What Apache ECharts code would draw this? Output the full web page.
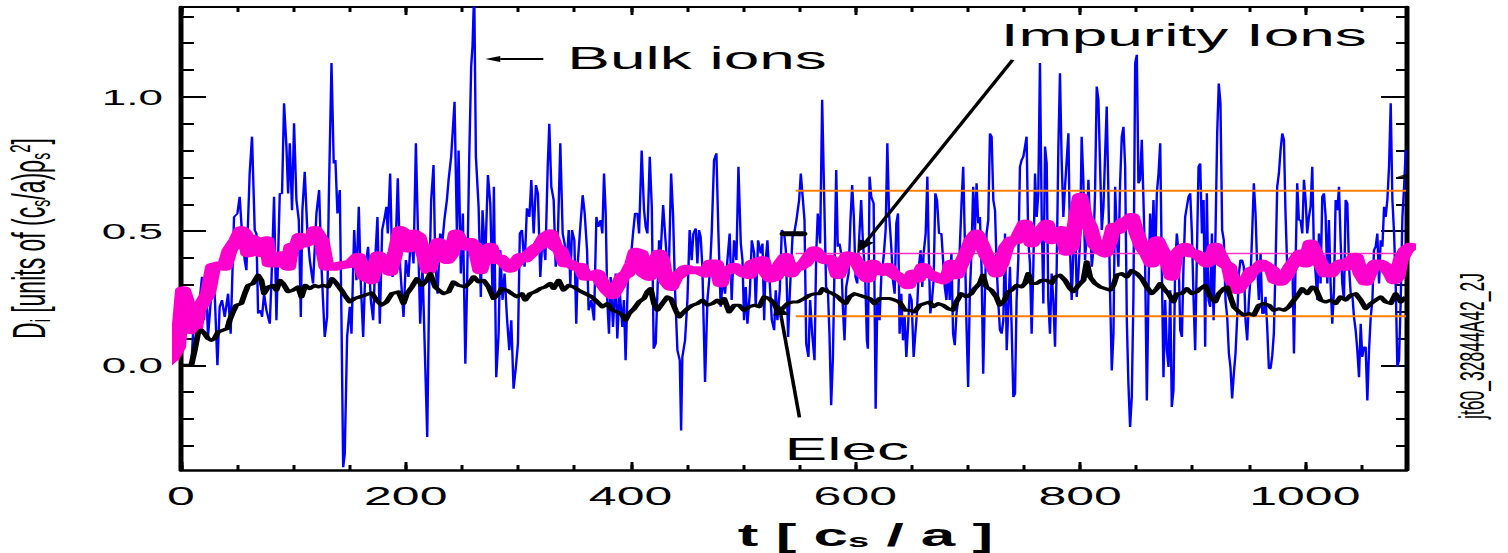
<!DOCTYPE html>
<html><head><meta charset="utf-8">
<script src="https://cdn.jsdelivr.net/npm/echarts@6/dist/echarts.min.js"></script>
<style>
html,body{margin:0;padding:0;background:#fff;overflow:hidden;}
#wrap{width:1508px;height:553px;overflow:hidden;position:relative;background:#fff;}
#chart{width:754px;height:553px;transform:scaleX(2);transform-origin:0 0;}
</style></head><body><div id="wrap"><div id="chart"></div></div>
<script>
// ---------- data (t in c_s/a, D in units of (c_s/a) rho_s^2) ----------
const xRange = [0, 1090];
const yRange = [-0.39, 1.335];
const xMajorTicks = [0, 200, 400, 600, 800, 1000];
const xMinorTicks = [0,50,100,150,200,250,300,350,400,450,500,550,600,650,700,750,800,850,900,950,1000,1050];
const yMajorTicks = [0, 0.5, 1.0];
const yMinorTicks = [-0.3,-0.2,-0.1,0,0.1,0.2,0.3,0.4,0.5,0.6,0.7,0.8,0.9,1.0,1.1,1.2,1.3];

const bulkIons = [
[0,0],[9.2,0],[10.7,0.118],[13.7,0.131],[16.6,0.243],[18.7,0.33],[20.5,0.168],[22.6,0.292],[24,0.106],[27,0.267],[29.4,0.33],[32.4,0],[34.4,0.218],[36.5,0.243],[38.9,0.18],[41.9,0.267],[44.2,0.118],[47.2,0.553],[50.2,0.566],[52.2,0.628],[54.3,0.491],[56.7,0.392],[58.2,0.354],[59.7,0.541],[61.1,0.715],[63.2,0.852],[65.6,0.504],[67.1,0.491],[68.6,0.193],[70.9,0.205],[72.1,0.18],[73.9,0.267],[76,0.205],[79,0.155],[80.4,0.305],[82.8,0.628],[84.9,0.168],[87.9,0.64],[89.9,0.64],[91.7,0.976],[93.8,0.815],[95.3,0.64],[96.8,0.827],[98.8,0.578],[100.6,0.902],[102.7,0.616],[104.8,0.541],[106.6,0.18],[108,0.578],[110.1,0.721],[112.5,0.491],[114.6,0.392],[117.5,0.305],[120.5,0.566],[122.9,0.653],[125,0.367],[127.9,0.106],[130,0.18],[131.5,0.616],[133.9,1.126],[135.9,0.752],[137.4,0.765],[139.2,0.566],[141.3,0.653],[142.8,0.168],[144.3,-0.38],[145.7,-0.33],[147.8,0.106],[150.2,0.218],[151.7,0.118],[154.1,0.504],[156.1,0.317],[158.2,0.591],[160,0.305],[162.1,0.106],[164.1,0.367],[166.5,0.442],[168.9,0.243],[171,0.168],[173.1,0.417],[174.8,0.553],[176.9,0.155],[179,0.504],[181.3,0.553],[182.8,0.591],
[184,0.491],[186.1,0.715],[188.2,0.329],[190.6,0.392],[192.9,0.697],[195,0.367],[198,0.18],[200.1,0.392],[202.4,0.329],[204.8,0.491],[206.9,0.379],[209,0.827],[210.8,0.504],[212.8,0.155],[214.9,0.367],[216.7,0.093],[219.1,-0.267],[220.8,0.28],[222.6,0.616],[224.7,0.746],[226.2,0.392],[228.3,0.267],[230.6,0.491],[232.7,0.466],[234.5,0.547],[236.6,0.616],[238.1,0.691],[240.4,0.778],[243.4,0.982],[245.5,0.491],[247,0.8],[249,0.342],[250.8,0.566],[253,0.006],[254.4,0.267],[256.5,0.778],[258.2,1.113],[259.4,1.19],[260.9,1.4],[262.4,0.778],[264.8,0.591],[266.8,0.255],[268.3,0.578],[270.7,0.392],[273.1,0.709],[275.2,0.603],[277.3,0.243],[278.4,0.665],[280.5,-0.044],[282.6,0.118],[284.1,0.429],[286.1,0.243],[287.9,0.342],[290,0.18],[292.1,0.056],[293.9,0.168],[295.9,-0.087],[298,-0.006],[299.8,0.081],[301.5,0.491],[303.4,0.504],[305.7,0.367],[307.8,0.585],[310,0.553],[311.7,0.69],[313.8,0.491],[315.8,0.672],[317.6,0.64],[319.7,0.329],[321.8,0.491],[324.2,0.392],[326.3,0.74],[327.7,0.9],[329.5,0.665],[331.6,0.616],[333.4,0.367],[335.4,0.491],[337.5,0.827],[339.6,0.491],[341.3,0.454],[343.4,0.392],[345,0.504],[346.4,0.3],[347.9,0.504],[350,0.466],[351.7,0.155],[353.2,0.392],[355.3,0.516],[357.4,0.634],[359.2,0.566],[361.3,0.429],[362.7,0.205],[365.1,0.243],
[367.5,0.167],[369.6,0.553],[371.3,0.516],[373.4,0.541],[374.9,0.491],[376.4,0.715],[377.9,0.566],[379.3,0.243],[380.8,0.118],[382.3,0.329],[384.4,0.143],[386.8,0.342],[388.2,0.1],[390.3,0.28],[392.7,0.143],[394.1,0.243],[395.6,0.019],[397.8,0.342],[400.1,0.392],[402.2,0.491],[404,0.566],[406.1,0.566],[407.6,0.491],[409.9,0.8],[412,0.578],[413.5,0.516],[415,0.491],[417.1,0.777],[418.9,0.591],[420.6,0.062],[422.4,0.081],[423.9,0.267],[425.4,0.466],[426.9,0.429],[429,0.597],[430.7,0.491],[432.8,0.367],[434.3,0.392],[436.1,0.715],[437.8,0.566],[439.6,0.28],[441.7,0.056],[443.8,0.019],[445,-0.243],[446.1,0.031],[448.5,0.093],[450.6,0.243],[452.6,0.504],[454.4,0.392],[455.9,0.491],[458,0.51],[459.5,0.379],[460.9,0.504],[462.4,0.479],[463.9,0.367],[466.3,-0.062],[468.4,0.243],[470.5,0.342],[472.2,0.491],[474.3,0.765],[476.4,0.79],[478.2,0.491],[480.2,0.218],[482.3,0.329],[484.1,0.267],[486.2,0.392],[488.2,0.491],[490,0.243],[492.1,0.466],[494.2,0.392],[496,0.74],[498.1,0.454],[499.6,0.392],[501,0.168],[502.5,0.292],[504,0.155],[506.1,0.267],[507.9,0.466],[510,0.417],[511.4,0.218],[513.5,0.466],[515.9,0.417],[517.4,0.454],[518.9,0.168],[520.3,0.392],[521.8,0.466],[523.9,0.305],[525.7,0.168],[527.8,0.131],[529.2,0.28],[530.7,0.168],[532.8,0.28],[534.6,0.504],[536.7,0.491],[538.2,0.429],[540.2,0.106],[541.7,0.267],[544.1,0.479],[545.6,0.491],[547.6,0.541],[550,0.616],[551.5,0.715],
[554.8,0.541],[556.3,0.081],[558.3,0.031],[559.8,0.243],[561.6,0.118],[563.7,0.019],[565.2,0.417],[566.6,0.566],[568.7,0.454],[570.5,0.989],[572.6,0.566],[574,0.292],[575.6,0.28],[577,0.118],[578.5,-0.149],[580,0.019],[581.5,0.367],[583,0.728],[584.4,0.442],[585.9,0.454],[587.4,0.417],[588.9,0.218],[590.4,0.093],[591.9,0.292],[594,0.342],[595.7,0.541],[597.2,0.672],[598.7,0.553],[600.2,0.329],[601.7,0.305],[603.2,0.454],[605.2,0.616],[606.7,0.466],[608.8,0.329],[610.3,0.093],[611.2,0.062],[612.7,0.703],[614.2,0.628],[616.3,0.603],[618.1,-0.162],[619.6,0.243],[621.6,0.168],[623.1,0.329],[625.2,0.404],[627,0.504],[628.5,0.827],[630,0.566],[632,0.442],[633.5,0.317],[635,0.267],[636.5,0.529],[638,0.566],[639.4,0.118],[640.9,0.267],[642.4,0.093],[643.9,0.18],[645.4,0.031],[646.9,0.143],[648.3,0.267],[650.1,0.243],[651.9,0.031],[653.4,0.118],[654.8,0.193],[656.6,0.367],[658.1,0.429],[659.6,0.292],[660.8,0.417],[662.6,0.491],[664.1,0.703],[665.5,0.392],[666.7,0.193],[668.2,0.243],[669.7,0.317],[671.2,0.641],[672.7,0.616],[674.5,0.491],[676.6,0.491],[678.1,0.392],[679.6,0.292],[681.1,0.243],[682.6,0.379],[684,0.243],[685.5,0.417],[687,0.118],[688.5,0.075],[690,0.193],[691.5,0.243],[693,0.442],[694.5,0.603],[696,0.74],[697.4,0.479],[698.9,0.155],[700.4,-0.081],[701.9,0.267],[703.4,0.429],[704.9,0.665],[706.4,0.491],[707.9,0.678],[709.4,0.529],[710.9,0.553],[712.3,0.367],[713.8,-0.031],[715.3,0.267],[716.8,0.491],[718.3,0.541],[719.8,0.864],[721.3,0.852],[722.8,0.616],[724.3,0.578],[725.8,0.367],[727.3,0.23],[728.7,0.131],[730.2,0.118],[731.7,0.168],[733.2,0.491],[734.7,0.056],
[737.6,0.367],[739.1,0.143],[740.6,-0.118],[742.1,-0.106],[743.5,0.243],[745,0.392],[746.5,0.74],[748,0.765],[749.5,0.777],[751,0.815],[752.4,0.852],[753.9,0.466],[755.4,0.379],[756.9,0.118],[758.4,0.367],[759.9,0.715],[761.4,0.553],[762.8,0.64],[764.3,1.126],[765.8,0.566],[767.3,0.23],[768.8,0.815],[770.3,0.752],[771.7,0.243],[773.2,0.118],[774.7,0.342],[776.2,0.243],[777.7,0.069],[779.2,0.367],[780.7,0.815],[782.1,1.088],[783.6,0.765],[785.1,0.553],[786.6,0.665],[788.1,0.765],[789.6,0.865],[791.1,0.429],[792.5,0.243],[794,0.417],[795.5,0.578],[797,0.255],[798.5,0.342],[800,0.466],[801.4,0.852],[802.9,0.691],[804.4,0.392],[805.9,0.491],[807.4,0.691],[808.9,0.528],[810.4,0.367],[811.8,0.429],[813.3,0.64],[814.8,1.039],[816.3,0.989],[817.8,0.74],[819.3,0.504],[820.8,0.591],[822.2,0.777],[823.7,0.964],[825.2,0.64],[826.7,0.267],[828.2,-0.019],[829.7,0.118],[831.2,0.665],[832.6,0.491],[834.1,0.367],[835.6,0.678],[837.1,0.852],[838.6,0.889],[840.1,0.74],[841.6,0.168],[843,-0.069],[844.5,-0.23],[846,-0.118],[847.5,0.267],[849,1.126],[850.5,1.157],[851.9,0.678],[853.4,0.691],[854.9,0.84],[856.4,0.616],[857.9,0.367],[859.4,-0.131],[860.9,0.292],[862.3,0.566],[863.8,0.417],[865.3,0.616],[866.8,0.367],[868.3,0.641],[869.8,0.715],[871.3,0.827],[872.7,0.367],[874.2,-0.044],[875.7,0.243],[877.2,0.056],[878.7,-0.006],[880.2,0.28],[881.6,-0.155],[883.1,-0.093],[884.6,0.367],[886.1,0.491],[887.6,0.417],[889.1,0.131],[890.6,0.106],[892,0.367],[893.5,0.553],[895,0.591],[896.5,0.628],[898,0.641],[899.5,0.491],[901,0.243],[902.4,0.056],[903.9,0.404],[905.4,0.74],[906.9,0.752],[908.4,0.491],[909.9,0.616],[911.3,0.069],[912.8,0.641],[914.3,0.243],[915.8,0.218],[917.3,0.491],[918.8,0.168],
[920.5,0.491],[922,0.865],[923.4,1.05],[924.9,0.976],[926.4,0.504],[927.9,0.466],[929.4,0.243],[930.9,0.18],[932.4,0.044],[933.8,-0.006],[935.3,-0.124],[936.8,-0.031],[938.3,0.044],[939.8,0.18],[941.3,0.342],[942.7,0.392],[944.2,0.392],[945.7,0.367],[947.2,0.168],[948.7,0.093],[950.2,0.243],[951.7,0.329],[953.1,0.491],[954.6,0.678],[956.1,0.566],[957.6,0.367],[959.1,0.243],[960.6,0.417],[962.1,0.193],[963.5,0.193],[965,0.255],[966.5,0.143],[968,-0.012],[969.5,-0.012],[971,0.037],[972.4,0.118],[973.9,0.367],[975.4,0.665],[976.9,0.715],[978.4,0.802],[979.9,0.864],[981.4,0.84],[982.8,0.566],[984.3,0.367],[985.8,0.392],[987.3,0.342],[988.8,0.417],[990.3,0.044],[991.7,0.367],[993.2,0.678],[994.7,0.541],[996.2,0.541],[997.7,0.491],[999.2,0.691],[1000.7,0.616],[1002.1,0.491],[1003.6,0.553],[1005.1,0.591],[1006.6,0.74],[1008.1,0.417],[1009.6,0.342],[1011.1,0.243],[1012.5,0.491],[1014,0.305],[1015.5,0.628],[1017,0.641],[1018.5,0.553],[1020,0.305],[1021.4,0.541],[1022.9,0.305],[1024.4,0.155],[1025.9,0.28],[1027.4,0.616],[1028.9,0.578],[1030.4,0.665],[1031.8,0.466],[1033.3,0.305],[1034.8,0.243],[1036.3,0.616],[1037.8,0.603],[1039.3,0.367],[1040.8,0.267],[1042.2,0.267],[1043.7,0.18],[1045.2,0.131],[1046.7,0.056],[1048.2,-0.044],[1049.7,0.155],[1051.1,0.031],[1052.6,0.068],[1054.1,0.068],[1055.6,-0.131],[1057.1,0.056],[1058.6,0.18],[1060.1,0.243],[1061.5,0.429],[1063,0.442],[1064.5,0.491],[1066,0.305],[1067.5,0.466],[1069,0.442],[1070.5,0.591],[1071.9,0.553],[1073.4,0.616],[1074.9,0.74],[1076.4,0.976],[1077.9,0.616],[1079.4,0.491],[1080.8,0.305],[1082.3,-0.006],[1083.8,0.019],[1085.3,0.243],[1086.8,0.553],[1088.3,0.665],[1089.8,0.803]
];

const impurityIons = [
[-16,0],[-8,0.03],[-2.7,0.068],[1.8,0.28],[4.7,0.243],[9.2,0.131],[12.2,0.131],[15.1,0.205],[24,0.267],[28.5,0.367],[34.4,0.373],[38.9,0.367],[43.3,0.429],[49.3,0.466],[53.7,0.504],[56.7,0.491],[59.7,0.417],[62.6,0.473],[68.6,0.46],[71.5,0.417],[76,0.466],[79,0.379],[86.4,0.379],[89.3,0.41],[95.3,0.367],[98.2,0.442],[102.7,0.442],[105.7,0.479],[110.1,0.454],[116.1,0.466],[119,0.504],[125,0.466],[129.4,0.367],[136.8,0.367],[142.8,0.373],[151.7,0.379],[157.6,0.404],[163.5,0.33],[169.5,0.317],[175.4,0.41],[181.3,0.392],
[186.1,0.348],[190.6,0.417],[195,0.504],[199.5,0.491],[202.4,0.435],[206.9,0.491],[211.3,0.479],[215.8,0.417],[220.2,0.354],[224.7,0.404],[229.2,0.46],[233.6,0.442],[236.6,0.392],[241,0.417],[244.6,0.491],[248.4,0.466],[253,0.442],[257.4,0.46],[261.8,0.442],[266.3,0.354],[270.7,0.417],[275.2,0.442],[279.6,0.392],[284.1,0.398],[288.5,0.379],[293,0.36],[297.4,0.379],[301.9,0.404],[306.3,0.398],[310.8,0.417],[315.2,0.435],[319.7,0.448],[324.1,0.479],[328.6,0.491],[333,0.442],[337.5,0.429],[341.9,0.379],[346.4,0.379],[350.8,0.367],[355.3,0.367],[359.7,0.33],[365.6,0.33],
[370.4,0.342],[374.9,0.305],[379.3,0.28],[383.8,0.261],[388.2,0.292],[392.7,0.33],[397.2,0.342],[401.6,0.379],[404.6,0.423],[409,0.417],[412,0.342],[416.5,0.33],[420.9,0.379],[425.4,0.417],[428.3,0.392],[431.3,0.317],[435.8,0.292],[440.2,0.33],[444.7,0.342],[449.1,0.36],[455.1,0.354],[461,0.354],[467,0.342],[471.4,0.379],[475.9,0.379],[480.3,0.305],[483.3,0.354],[487.7,0.354],[492.2,0.367],[496.6,0.354],[501.1,0.342],[505.5,0.336],[508.5,0.379],[512.9,0.386],[517.4,0.392],[520.3,0.348],[524.8,0.323],[529.2,0.33],[533.7,0.379],[538.2,0.404],[542.6,0.342],[547.1,0.367],
[550.3,0.367],[554.8,0.379],[559.2,0.404],[563.7,0.429],[568.1,0.404],[572.6,0.392],[577,0.398],[581.5,0.379],[584.5,0.336],[588.9,0.379],[593.4,0.41],[597.8,0.404],[602.3,0.379],[606.7,0.342],[611.2,0.323],[615.6,0.379],[620.1,0.354],[624.6,0.348],[629,0.367],[633.5,0.342],[637.9,0.33],[642.4,0.323],[646.8,0.298],[651.3,0.342],[655.7,0.323],[660.2,0.367],[664.6,0.342],[669.1,0.336],[673.6,0.323],[678,0.317],[682.5,0.33],[685.5,0.379],[689.9,0.336],[694.3,0.379],[698.8,0.417],[703.3,0.466],[707.7,0.491],[712.2,0.454],[716.6,0.41],[721.1,0.379],[725.5,0.342],[730,0.379],[734.4,0.442],
[739.1,0.466],[743.5,0.466],[748,0.504],[751,0.528],[753.9,0.504],[756.9,0.454],[761.4,0.479],[765.8,0.504],[770.3,0.528],[774.7,0.466],[779.2,0.485],[783.6,0.504],[788.1,0.423],[792.6,0.442],[797,0.566],[800,0.628],[804.4,0.553],[808.9,0.516],[813.3,0.448],[817.8,0.429],[822.2,0.417],[826.7,0.466],[829.7,0.516],[834.1,0.504],[838.6,0.535],[843.1,0.541],[846,0.553],[850.5,0.491],[854.9,0.442],[859.4,0.417],[863.8,0.379],[868.3,0.466],[872.7,0.429],[877.2,0.392],[881.6,0.33],[884.6,0.404],[889.1,0.429],[893.5,0.442],[898,0.417],[902.4,0.417],[906.9,0.404],[912.8,0.379],[917.3,0.404],[920.3,0.442],
[923.4,0.417],[927.9,0.379],[932.4,0.367],[935.3,0.317],[939.8,0.28],[944.2,0.305],[948.7,0.323],[953.1,0.354],[957.6,0.36],[962.1,0.379],[966.5,0.367],[971,0.354],[973.9,0.317],[978.4,0.311],[982.8,0.33],[987.3,0.367],[991.8,0.392],[996.2,0.417],[1000.7,0.379],[1005.1,0.454],[1009.6,0.417],[1014,0.379],[1018.5,0.342],[1022.9,0.342],[1027.4,0.367],[1031.8,0.379],[1036.3,0.367],[1040.8,0.392],[1045.2,0.404],[1049.7,0.342],[1054.1,0.311],[1058.6,0.354],[1063,0.379],[1067.5,0.379],[1071.9,0.367],[1076.4,0.342],[1079.4,0.317],[1082.3,0.33],[1085.3,0.392],[1089.8,0.429],[1094,0.442]
];

const electrons = [
[0,0],[9.2,0],[12.2,0.056],[15.1,0.118],[18.1,0.131],[21.1,0.118],[24,0.1],[27,0.093],[30,0.1],[32.9,0.124],[37.4,0.131],[41.3,0.137],[43.3,0.168],[46.3,0.199],[49.3,0.224],[53.7,0.23],[56.7,0.267],[59.7,0.298],[64.1,0.305],[68.6,0.336],[71.5,0.317],[73.9,0.267],[77.5,0.292],[81.9,0.298],[84.9,0.28],[87.9,0.317],[90.8,0.305],[95.3,0.274],[99.7,0.28],[104.2,0.292],[107.2,0.255],[110.7,0.298],[114.6,0.286],[119,0.298],[122,0.292],[126.4,0.298],[130.9,0.292],[134.5,0.323],[138.3,0.305],[142.8,0.28],[145.7,0.261],[150.2,0.236],[154.6,0.249],[159.1,0.255],[163.5,0.261],[169.5,0.27],[173.9,0.243],[178.4,0.224],[182.8,0.236],
[187.6,0.267],[193.5,0.274],[198,0.23],[201,0.267],[205.4,0.292],[209.9,0.323],[214.3,0.298],[218.8,0.317],[221.8,0.342],[226.2,0.292],[229.2,0.28],[233.6,0.267],[238.1,0.274],[242.5,0.311],[247,0.298],[252.9,0.292],[257.4,0.311],[260.3,0.33],[264.8,0.311],[269.2,0.317],[273.7,0.292],[278.1,0.249],[282.6,0.267],[285.5,0.286],[290,0.28],[294.4,0.267],[298.9,0.255],[303.3,0.267],[306.3,0.243],[310.7,0.267],[315.2,0.274],[319.6,0.286],[324.1,0.292],[328.6,0.305],[331.5,0.286],[336,0.317],[340.4,0.28],[344.9,0.298],[349.3,0.292],[353.8,0.28],[359.7,0.267],[365.6,0.255],
[370.4,0.236],[374.9,0.218],[379.3,0.23],[383.8,0.205],[388.2,0.199],[392.7,0.187],[395.6,0.168],[398.6,0.193],[403.1,0.211],[407.5,0.236],[412,0.249],[414.9,0.274],[417.9,0.286],[420.9,0.23],[423.9,0.205],[428.3,0.23],[432.8,0.255],[435.8,0.249],[440.2,0.205],[443.2,0.18],[446.1,0.193],[450.6,0.211],[455.1,0.224],[459.5,0.23],[464,0.243],[468.4,0.224],[472.9,0.23],[477.3,0.243],[480.3,0.23],[483.3,0.249],[487.7,0.199],[492.2,0.224],[496.6,0.224],[501.1,0.205],[505.5,0.218],[510,0.224],[514.5,0.218],[518.9,0.255],[523.4,0.249],[527.8,0.23],[530.8,0.205],[535.2,0.211],[539.7,0.23],[544.1,0.236],[548.6,0.236],
[554.8,0.249],[559.2,0.261],[563.7,0.267],[568.1,0.267],[571.1,0.286],[575.6,0.274],[580,0.267],[584.5,0.255],[587.4,0.243],[591.3,0.23],[594.9,0.255],[599.3,0.267],[603.8,0.261],[608.2,0.255],[612.7,0.249],[617.1,0.23],[621.6,0.249],[626,0.249],[630.5,0.249],[634.9,0.243],[639.4,0.236],[643.9,0.205],[648.3,0.205],[652.8,0.199],[657.2,0.224],[661.7,0.23],[666.1,0.236],[669.1,0.218],[673.6,0.23],[678,0.224],[682.5,0.211],[686.9,0.205],[689.9,0.236],[694.3,0.267],[698.8,0.255],[703.3,0.267],[706.2,0.286],[710.7,0.305],[713.6,0.336],[716.6,0.292],[721.1,0.28],[725.5,0.255],[728.5,0.224],[732.9,0.243],[735.9,0.274],
[739.1,0.28],[743.5,0.298],[748,0.292],[751,0.305],[753.9,0.342],[756.9,0.305],[761.4,0.305],[765.8,0.317],[770.3,0.317],[774.7,0.305],[777.7,0.329],[782.1,0.336],[786.6,0.317],[791.1,0.286],[794,0.274],[798.5,0.298],[803,0.317],[805.9,0.386],[808.9,0.329],[813.3,0.305],[817.8,0.292],[822.2,0.286],[826.7,0.28],[829.7,0.298],[832.6,0.336],[837.1,0.342],[841.6,0.329],[846,0.354],[850.5,0.342],[854.9,0.323],[859.4,0.292],[863.8,0.267],[868.3,0.286],[871.3,0.305],[875.7,0.28],[878.7,0.267],[883.1,0.236],[886.1,0.267],[890.6,0.267],[895,0.286],[899.5,0.267],[903.9,0.274],[906.9,0.286],[911.3,0.298],[915.8,0.255],[920.3,0.236],
[923.4,0.267],[927.9,0.286],[930.9,0.292],[933.8,0.255],[936.8,0.218],[941.3,0.199],[945.7,0.187],[950.2,0.193],[954.6,0.187],[959.1,0.224],[963.5,0.23],[968,0.224],[972.4,0.205],[976.9,0.211],[981.4,0.205],[985.8,0.218],[990.3,0.243],[994.7,0.267],[997.7,0.286],[1002.1,0.267],[1006.6,0.292],[1009.6,0.286],[1014,0.243],[1018.5,0.236],[1022.9,0.243],[1027.4,0.23],[1031.8,0.255],[1036.3,0.243],[1040.8,0.261],[1045.2,0.267],[1049.7,0.243],[1054.1,0.211],[1058.6,0.23],[1063,0.243],[1067.5,0.255],[1071.9,0.236],[1076.4,0.23],[1080.8,0.267],[1085.3,0.236],[1089.8,0.255]
];

// horizontal reference levels drawn over the second half of the run
const refSpan = [547, 1090];
const orangeLevels = [0.65, 0.183];
const pinkLevel = 0.417;
const leftMark = [[537, 0.49], [553, 0.49]];
const rightMark = [1087, 0.703];

// annotation anchors [t, D]
const bulkLabel = { text: 'Bulk ions', at: [343.7, 1.147], arrowFrom: [322.4, 1.141], arrowTo: [270.7, 1.141] };
const impLabel  = { text: 'Impurity Ions', at: [729.3, 1.231], arrowFrom: [740, 1.138], arrowTo: [602, 0.4216] };
const elecLabel = { text: 'Elec', at: [537, -0.31], arrowFrom: [550.3, -0.194], arrowTo: [532.2, 0.224] };
const sideTag = 'jt60_32844A42_2J';

// ---------- chart ----------
const FONT = '"Liberation Sans", Arial, Helvetica, sans-serif';
const chart = echarts.init(document.getElementById('chart'), null, { renderer: 'svg' });

function xAx(pos, ticks, len, lineW, extra) {
  return Object.assign({
    type: 'value', position: pos, min: xRange[0], max: xRange[1],
    axisLine: { show: lineW > 0, onZero: false, lineStyle: { color: '#000', width: lineW } },
    axisTick: { show: true, inside: true, customValues: ticks, length: len, lineStyle: { color: '#000', width: 1.5 } },
    axisLabel: { show: false }, splitLine: { show: false }
  }, extra || {});
}
function yAx(pos, ticks, len, lineW, extra) {
  return Object.assign({
    type: 'value', position: pos, min: yRange[0], max: yRange[1],
    axisLine: { show: lineW > 0, onZero: false, lineStyle: { color: '#000', width: lineW } },
    axisTick: { show: true, inside: true, customValues: ticks, length: len, lineStyle: { color: '#000', width: 2 } },
    axisLabel: { show: false }, splitLine: { show: false }
  }, extra || {});
}

const option = {
  animation: false,
  backgroundColor: '#fff',
  grid: { left: 90.5, right: 51, top: 7, bottom: 83, containLabel: false, outerBoundsMode: 'none' },
  xAxis: [
    xAx('bottom', xMinorTicks, 5, 2.5, {
      axisLabel: { show: true, customValues: xMajorTicks, formatter: v => String(v), margin: 14, color: '#000', fontSize: 25, fontFamily: FONT },
      name: '{n|t [ c}{b|s}{n| / a ]}', nameLocation: 'middle', nameGap: 47,
      nameTextStyle: {
        color: '#000', padding: [0, 0, 0, 72],
        rich: {
          n: { fontSize: 31, fontWeight: 'bold', fontFamily: FONT, lineHeight: 36, color: '#000', verticalAlign: 'middle' },
          b: { fontSize: 19, fontWeight: 'bold', fontFamily: FONT, lineHeight: 19, color: '#000', verticalAlign: 'bottom', padding: [0, 0, 3, 0] }
        }
      }
    }),
    xAx('bottom', xMajorTicks, 8, 0),
    xAx('top', xMinorTicks, 5, 2),
    xAx('top', xMajorTicks, 8, 0)
  ],
  yAxis: [
    yAx('left', yMinorTicks, 6.5, 2.5, {
      axisLabel: { show: true, customValues: yMajorTicks, formatter: v => v.toFixed(1), margin: 9, color: '#000', fontSize: 22, fontFamily: FONT },
      name: '{n|D}{b|i}{n| [units of (c}{b|s}{n|/a)ρ}{b|s}{p|2}{n|]}', nameLocation: 'middle', nameGap: 59,
      nameTextStyle: {
        color: '#000',
        rich: {
          n: { fontSize: 23, fontFamily: FONT, lineHeight: 34, color: '#000', verticalAlign: 'middle' },
          b: { fontSize: 14, fontFamily: FONT, lineHeight: 14, color: '#000', verticalAlign: 'bottom', padding: [0, 0, 4, 0] },
          p: { fontSize: 15, fontFamily: FONT, lineHeight: 15, color: '#000', verticalAlign: 'top', padding: [5, 0, 0, 0] }
        }
      }
    }),
    yAx('left', yMajorTicks, 12.5, 0),
    yAx('right', yMinorTicks, 5, 2.5),
    yAx('right', yMajorTicks, 12.5, 0)
  ],
  series: [
    { name: 'Bulk ions', type: 'line', data: bulkIons, showSymbol: false, symbol: 'none', z: 2,
      lineStyle: { color: '#0000ff', width: 1.2 } },
    ...orangeLevels.map(v => ({ type: 'line', data: [[refSpan[0], v], [refSpan[1], v]], symbol: 'none', z: 3,
      lineStyle: { color: '#ff7f00', width: 2 } })),
    { type: 'line', data: [[refSpan[0], pinkLevel], [refSpan[1], pinkLevel]], symbol: 'none', z: 3,
      lineStyle: { color: '#ff33cc', width: 1.5 } },
    { name: 'Impurity Ions', type: 'line', data: impurityIons, showSymbol: false, symbol: 'none', z: 4, clip: false,
      lineStyle: { color: '#ff00cc', width: 8, join: 'round', cap: 'round' } },
    { name: 'Elec', type: 'line', data: electrons, showSymbol: false, symbol: 'none', z: 5,
      lineStyle: { color: '#000', width: 3, join: 'round' } },
    { type: 'line', data: leftMark, symbol: 'none', z: 6, lineStyle: { color: '#000', width: 5, cap: 'round' } },
    { type: 'scatter', data: [rightMark], symbol: 'triangle', symbolRotate: 90, symbolSize: [7, 5], z: 6,
      itemStyle: { color: '#000' } }
  ]
};
chart.setOption(option);

const px = p => chart.convertToPixel({ seriesIndex: 0 }, p);
function arrow(from, to, lw, headLen, headW) {
  const a = px(from), b = px(to);
  const dx = b[0] - a[0], dy = b[1] - a[1], L = Math.hypot(dx, dy), ux = dx / L, uy = dy / L;
  const bx = b[0] - ux * headLen, by = b[1] - uy * headLen;
  return [
    { type: 'line', z: 100, shape: { x1: a[0], y1: a[1], x2: bx, y2: by }, style: { stroke: '#000', lineWidth: lw } },
    { type: 'polygon', z: 100, shape: { points: [[b[0], b[1]], [bx - uy * headW, by + ux * headW], [bx + uy * headW, by - ux * headW]] }, style: { fill: '#000' } }
  ];
}
function label(l) {
  const p = px(l.at);
  return { type: 'text', z: 100, x: p[0], y: p[1], style: { text: l.text, font: '32px ' + FONT, fill: '#000', align: 'left', verticalAlign: 'middle' } };
}
const g = [];
g.push(label(bulkLabel), ...arrow(bulkLabel.arrowFrom, bulkLabel.arrowTo, 2, 7.5, 3));
g.push(label(impLabel), ...arrow(impLabel.arrowFrom, impLabel.arrowTo, 2, 12, 4));
g.push(label(elecLabel), ...arrow(elecLabel.arrowFrom, elecLabel.arrowTo, 1.8, 10, 4));
g.push({ type: 'text', z: 100, x: 736, y: 346, rotation: Math.PI / 2,
  style: { text: sideTag, font: '17.5px ' + FONT, fill: '#000', align: 'center', verticalAlign: 'middle' } });
chart.setOption({ graphic: g });
</script>
</body></html>
